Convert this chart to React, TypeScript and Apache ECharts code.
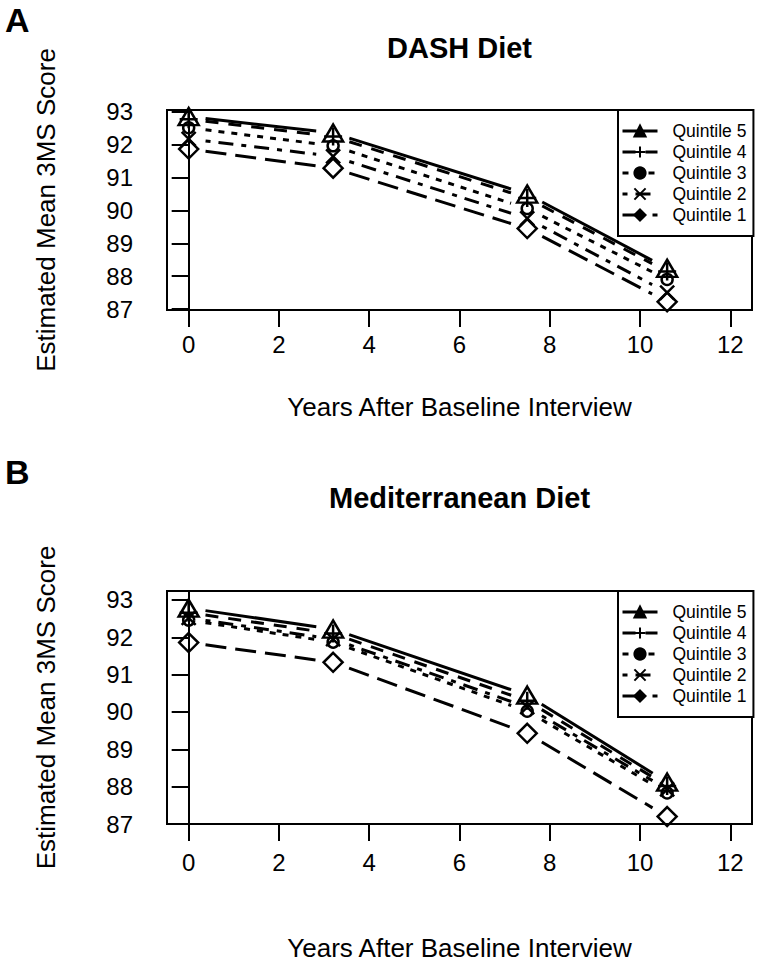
import React, { useEffect, useRef } from 'react';
import * as echarts from 'echarts';

// ---- data ----
const years = [0, 3.2, 7.5, 10.6];
const quintiles = ['Quintile 5', 'Quintile 4', 'Quintile 3', 'Quintile 2', 'Quintile 1'];

const dashQ5 = [92.86, 92.36, 90.5, 88.24];
const dashQ4 = [92.78, 92.25, 90.38, 88.14];
const dashQ3 = [92.52, 91.97, 90.06, 87.9];
const dashQ2 = [92.18, 91.65, 89.76, 87.5];
const dashQ1 = [91.87, 91.29, 89.45, 87.22];

const medQ5 = [92.78, 92.22, 90.45, 88.12];
const medQ4 = [92.66, 92.1, 90.3, 88.02];
const medQ3 = [92.46, 91.87, 90.02, 87.83];
const medQ2 = [92.52, 91.95, 90.13, 87.93];
const medQ1 = [91.86, 91.33, 89.43, 87.2];

const xTicks = [0, 2, 4, 6, 8, 10, 12];
const yTicks = [87, 88, 89, 90, 91, 92, 93];

const panels = [
  { label: 'A', title: 'DASH Diet', series: [dashQ5, dashQ4, dashQ3, dashQ2, dashQ1] },
  { label: 'B', title: 'Mediterranean Diet', series: [medQ5, medQ4, medQ3, medQ2, medQ1] },
];

// ---- styles ----
const FONT = '"Liberation Sans", Arial, Helvetica, sans-serif';
const plusPath = 'path://M10,0L10,20M0,10L20,10';
const crossPath = 'path://M0,0L20,20M0,20L20,0';
const styles: any[] = [
  { symbol: 'triangle', size: [20, 17], dash: 'solid' },
  { symbol: plusPath, size: 18, dash: [13, 10] },
  { symbol: 'circle', size: 11, dash: [6, 7] },
  { symbol: crossPath, size: 14, dash: [5, 8, 15, 8] },
  { symbol: 'diamond', size: [19, 19], dash: [21, 9] },
];
const GAP = 17;
const LW = 3;

const layout = [
  { gridTop: 110, gridH: 200, yMin: 86.97, yMax: 93.06, titleTop: 33, labelTop: 3, xLabelMargin: 22, xNameGap: 84, legendTop: 110 },
  { gridTop: 591, gridH: 233, yMin: 87, yMax: 93.24, titleTop: 483, labelTop: 455, xLabelMargin: 26, xNameGap: 111, legendTop: 591 },
];

export default function App() {
  const ref = useRef<HTMLDivElement>(null);
  useEffect(() => {
    if (!ref.current) return;
    const chart = echarts.init(ref.current, null, { renderer: 'svg' });
    const grid: any[] = [];
    const xAxis: any[] = [];
    const yAxis: any[] = [];
    const series: any[] = [];
    const title: any[] = [];
    const legend: any[] = [];
    panels.forEach((p, pi) => {
      const L = layout[pi];
      grid.push({ left: 167, width: 585, top: L.gridTop, height: L.gridH, show: true, borderColor: '#000', borderWidth: 2, backgroundColor: 'transparent' });
      xAxis.push({
        type: 'value', gridIndex: pi, min: -0.48, max: 12.48,
        axisLine: { show: true, lineStyle: { color: '#000', width: 2 } },
        axisTick: { show: true, inside: false, length: 17, lineStyle: { color: '#000', width: 2 }, customValues: xTicks },
        axisLabel: { customValues: xTicks, fontSize: 24, color: '#000', fontFamily: FONT, margin: L.xLabelMargin },
        splitLine: { show: false },
        name: 'Years After Baseline Interview', nameLocation: 'middle', nameGap: L.xNameGap,
        nameTextStyle: { fontSize: 26, color: '#000', fontFamily: FONT },
      });
      yAxis.push({
        type: 'value', gridIndex: pi, min: L.yMin, max: L.yMax,
        axisLine: { show: true, lineStyle: { color: '#000', width: 2 } },
        axisTick: { show: true, inside: false, length: 17, lineStyle: { color: '#000', width: 2 }, customValues: yTicks },
        axisLabel: { customValues: yTicks, fontSize: 24, color: '#000', fontFamily: FONT, margin: 34 },
        splitLine: { show: false },
        name: 'Estimated Mean 3MS Score', nameLocation: 'middle', nameGap: 108, nameRotate: 90,
        nameTextStyle: { fontSize: 26, color: '#000', fontFamily: FONT },
      });
      title.push({ text: p.label, left: 5, top: L.labelTop, padding: 0, textStyle: { fontSize: 34, fontWeight: 'bold', color: '#000', fontFamily: FONT } });
      title.push({ text: p.title, left: 459.5, textAlign: 'center', top: L.titleTop, padding: 0, textStyle: { fontSize: 29, fontWeight: 'bold', color: '#000', fontFamily: FONT } });
      // marker series (also drive the legend icons)
      p.series.forEach((vals, si) => {
        const st = styles[si];
        series.push({
          type: 'line', name: quintiles[si], xAxisIndex: pi, yAxisIndex: pi,
          data: years.map((x, i) => [x, vals[i]]),
          symbol: st.symbol, symbolSize: st.size, showSymbol: true,
          lineStyle: { width: 0, opacity: 0 },
          itemStyle: { color: 'rgba(0,0,0,0)', borderColor: '#000', borderWidth: 2.5 },
          z: 3,
        });
      });
      // gapped connecting segments (R type = "b")
      p.series.forEach((vals, si) => {
        const st = styles[si];
        const segs = years.slice(0, -1).map((x, i) => [x, vals[i], years[i + 1], vals[i + 1]]);
        series.push({
          type: 'custom', name: quintiles[si], xAxisIndex: pi, yAxisIndex: pi,
          data: segs, encode: { x: [0, 2], y: [1, 3] },
          renderItem: (params: any, api: any) => {
            const a = api.coord([api.value(0), api.value(1)]);
            const b = api.coord([api.value(2), api.value(3)]);
            const dx = b[0] - a[0];
            const dy = b[1] - a[1];
            const len = Math.hypot(dx, dy);
            const ux = dx / len;
            const uy = dy / len;
            return {
              type: 'line',
              shape: { x1: a[0] + ux * GAP, y1: a[1] + uy * GAP, x2: b[0] - ux * GAP, y2: b[1] - uy * GAP },
              style: { stroke: '#000', lineWidth: LW, lineDash: st.dash === 'solid' ? null : st.dash, fill: null },
            };
          },
          z: 2,
        });
      });
      legend.push({
        orient: 'vertical', left: 618, top: L.legendTop,
        padding: [12, 7, 12, 3], itemWidth: 35, itemHeight: 14, itemGap: 3,
        borderColor: '#000', borderWidth: 2, backgroundColor: '#fff', borderRadius: 0,
        selectedMode: false,
        textStyle: { fontSize: 17.5, color: '#000', fontFamily: FONT, padding: [0, 0, 0, 10] },
        data: quintiles.map((q, si) => ({
          name: q,
          itemStyle: { color: '#000', borderColor: '#000', borderWidth: 2, opacity: 1 },
          lineStyle: { color: '#000', width: LW, type: styles[si].dash, opacity: 1 },
        })),
      });
    });
    chart.setOption({
      animation: false,
      backgroundColor: '#fff',
      title, grid, xAxis, yAxis, series, legend,
    });
    return () => chart.dispose();
  }, []);
  return <div ref={ref} style={{ position: 'fixed', left: 0, top: 0, width: 757, height: 962 }} />;
}
